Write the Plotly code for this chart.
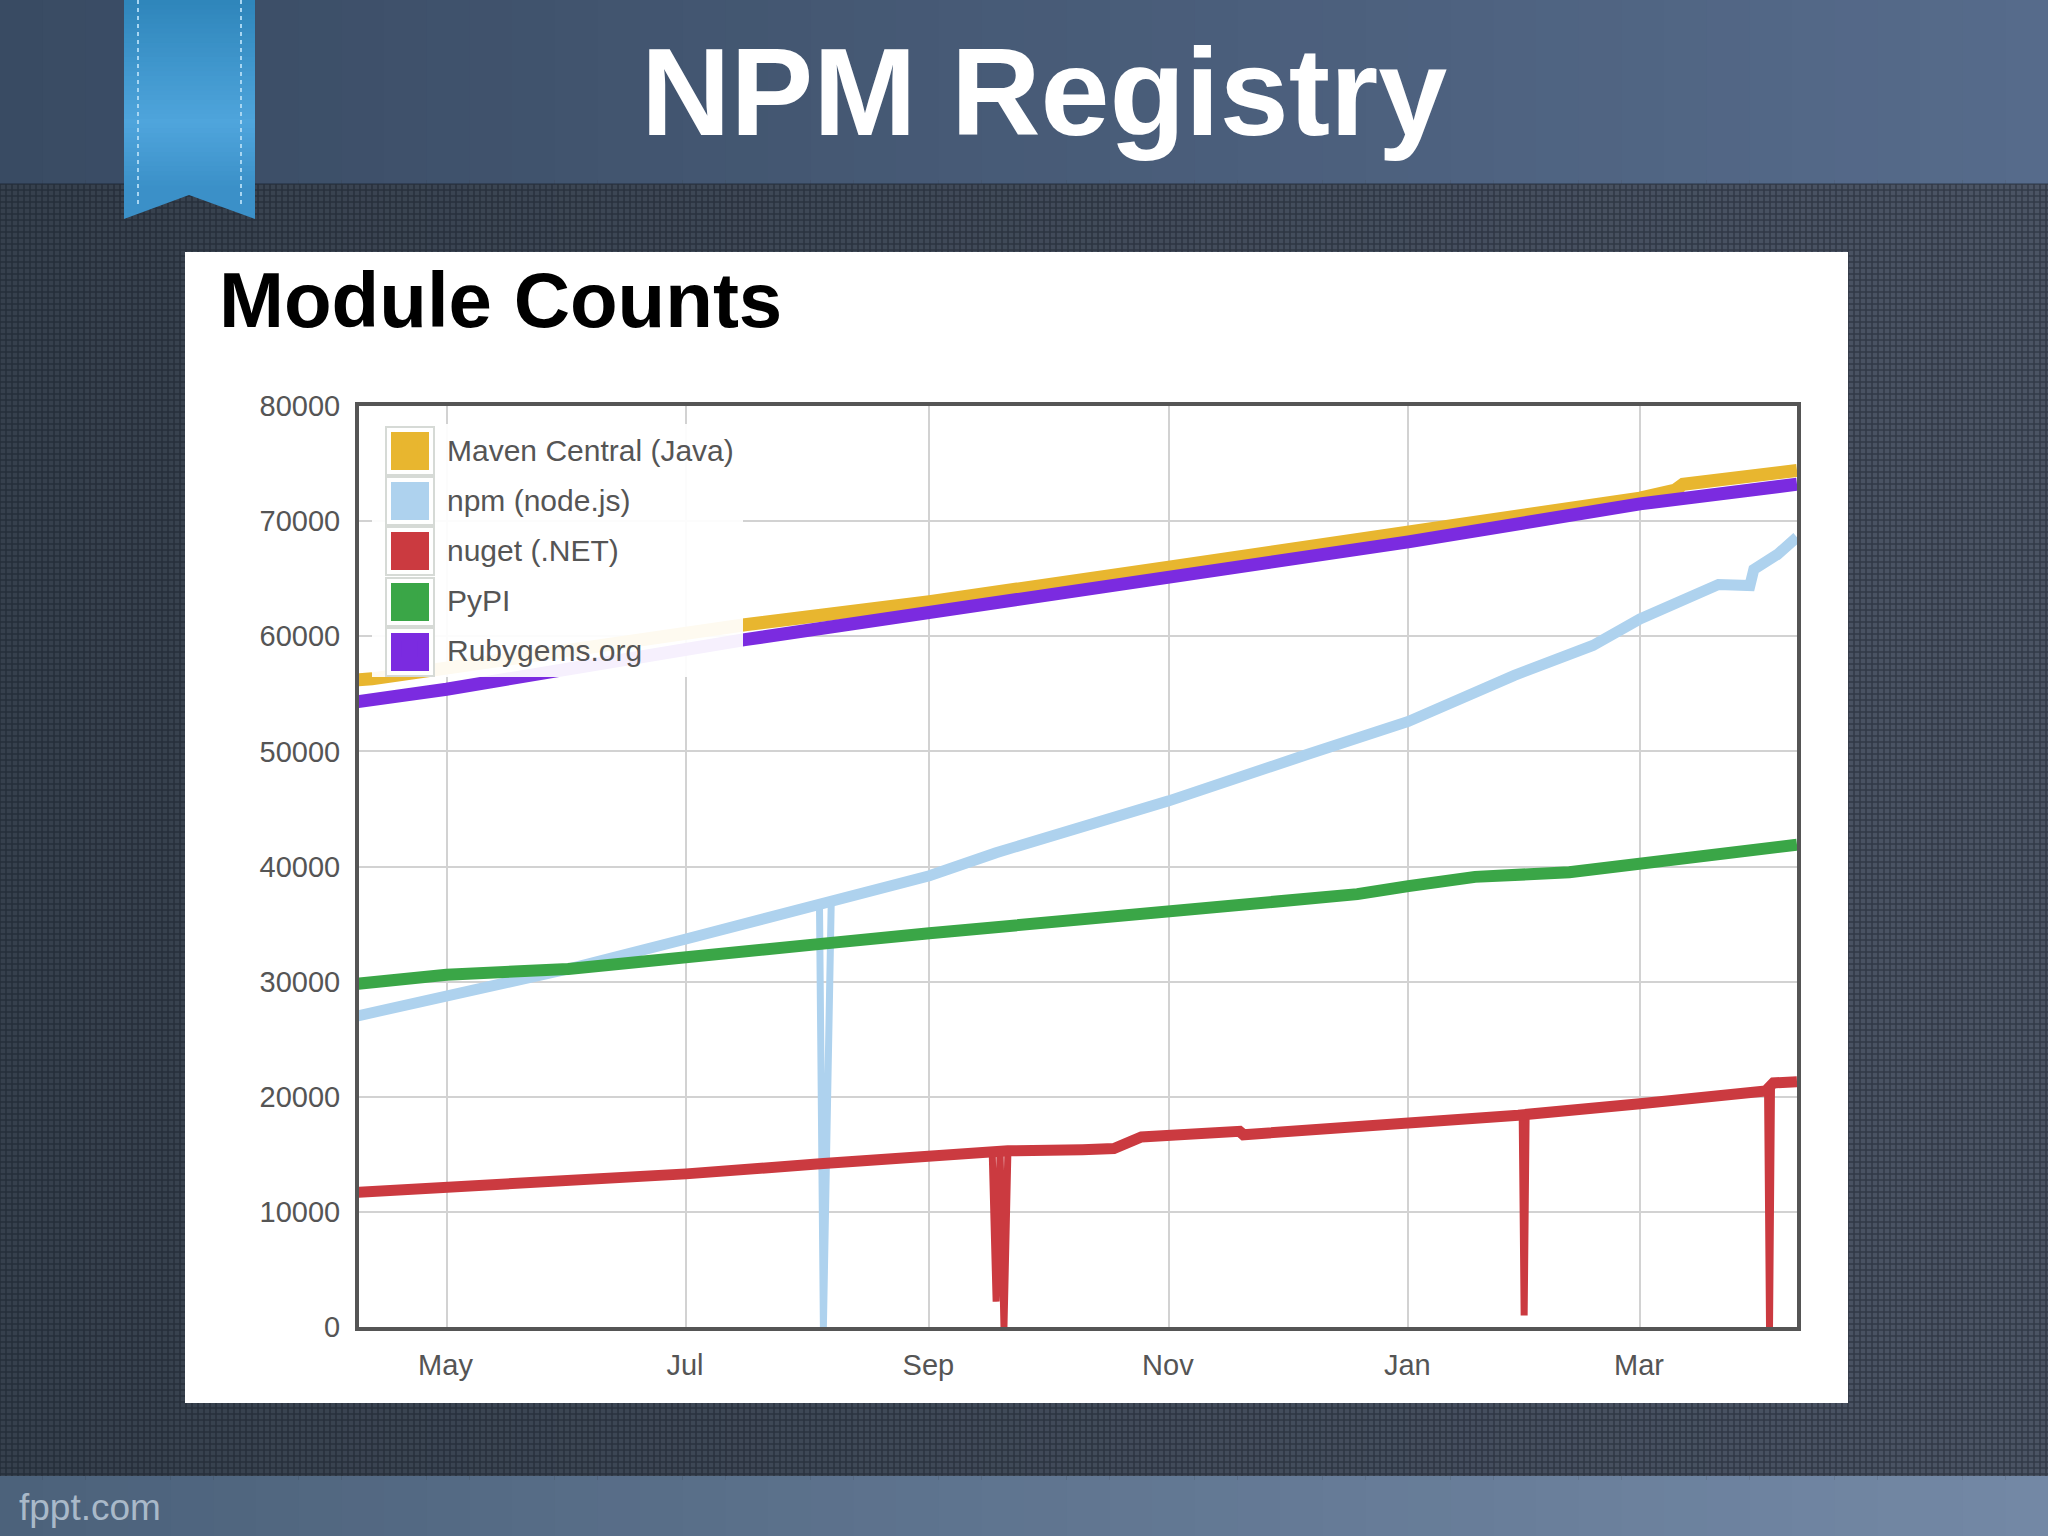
import plotly.graph_objects as go

W = 2048
H = 1536

# values
maven_dates = ['2013-04-08', '2013-04-12', '2013-07-16', '2013-09-01', '2013-11-01', '2014-01-01',
               '2014-03-01', '2014-03-10', '2014-03-12', '2014-04-10']
maven_vals = [56200, 56300, 61000, 63000, 66000, 69000, 72000, 72700, 73200, 74400]

npm_dates = ['2013-04-08', '2013-05-01', '2013-06-01', '2013-07-01', '2013-08-05',
             '2013-09-01', '2013-09-18', '2013-11-01', '2013-12-06', '2014-01-01',
             '2014-01-28', '2014-02-17', '2014-03-01', '2014-03-21', '2014-03-29', '2014-03-30',
             '2014-04-05', '2014-04-10']
npm_vals = [27000, 28700, 31100, 33700, 36900, 39200, 41200, 45700, 49700, 52600,
            56600, 59200, 61500, 64500, 64400, 65800, 67100, 68600]
npm_drop_dates = ['2013-08-04', '2013-08-05', '2013-08-07']
npm_drop_vals = [36800, 0, 37000]

nuget_dates = ['2013-04-08', '2013-05-01', '2013-07-01', '2013-08-05', '2013-09-01', '2013-09-17',
               '2013-09-21', '2013-10-10', '2013-10-18', '2013-10-25', '2013-11-19', '2013-11-20',
               '2014-01-01', '2014-01-29', '2014-03-01', '2014-04-02', '2014-04-04', '2014-04-10']
nuget_vals = [11700, 12100, 13300, 14200, 14800, 15200, 15300, 15400, 15500,
              16500, 17000, 16700, 17600, 18400, 19400, 20500, 21200, 21300]
nuget_drop_dates = ['2013-09-17', '2013-09-18', '2013-09-19', '2013-09-20', '2013-09-21', None,
                    '2014-01-30', '2014-01-30 12:00', '2014-01-31', None,
                    '2014-04-02 12:00', '2014-04-03', '2014-04-03 12:00']
nuget_drop_vals = [15200, 2200, 15200, 0, 15300, None, 18400, 1000, 18400, None, 20500, 0, 20800]

pypi_dates = ['2013-04-08', '2013-05-01', '2013-06-01', '2013-07-01', '2013-08-05', '2013-09-01',
              '2013-11-01', '2013-12-19', '2014-01-01', '2014-01-18', '2014-02-11', '2014-03-01',
              '2014-04-10']
pypi_vals = [29800, 30600, 31100, 32200, 33300, 34200, 36000, 37600, 38300, 39100, 39500, 40300, 41900]

ruby_dates = ['2013-04-08', '2013-05-01', '2013-07-16', '2013-09-01', '2013-11-01', '2014-01-01',
              '2014-03-01', '2014-04-10']
ruby_vals = [54300, 55400, 59700, 62000, 65200, 68200, 71500, 73200]

series = [
    ('Maven Central (Java)', maven_dates, maven_vals, '#e8b62f', 13),
    ('npm (node.js)', npm_dates, npm_vals, '#aed2ee', 11),
    ('nuget (.NET)', nuget_dates, nuget_vals, '#cb3a40', 11),
    ('PyPI', pypi_dates, pypi_vals, '#3aa647', 12),
    ('Rubygems.org', ruby_dates, ruby_vals, '#7b2be0', 13),
]

fig = go.Figure()

# dropouts go under the main lines, they are drawn thinner in the picture
fig.add_trace(go.Scatter(x=npm_drop_dates, y=npm_drop_vals, mode='lines', showlegend=False,
                         line=dict(color='#aed2ee', width=7)))
fig.add_trace(go.Scatter(x=nuget_drop_dates, y=nuget_drop_vals, mode='lines', showlegend=False,
                         line=dict(color='#cb3a40', width=7)))

for name, dates, vals, color, width in series:
    fig.add_trace(go.Scatter(
        x=dates,
        y=vals,
        mode='lines',
        name=name,
        line=dict(color=color, width=width),
        showlegend=False,
        legendgroup=name
    ))

# legend entries, the marker sits on top of the big square drawn below
for name, dates, vals, color, width in series:
    fig.add_trace(go.Scatter(
        x=[None],
        y=[None],
        mode='markers',
        name=name,
        marker=dict(symbol='square', color=color, size=16),
        legendgroup=name
    ))


def px(x0, y0, x1, y1):
    # page pixels to paper coordinates
    return dict(x0=x0 / W, x1=x1 / W, y0=1 - y0 / H, y1=1 - y1 / H)


def mix(c0, c1, t):
    a = [int(c0[i:i + 2], 16) for i in (1, 3, 5)]
    b = [int(c1[i:i + 2], 16) for i in (1, 3, 5)]
    return 'rgb(%d,%d,%d)' % tuple(round(a[i] + (b[i] - a[i]) * t) for i in range(3))


shapes = []


def rect(x0, y0, x1, y1, color, layer='below', line=None):
    shapes.append(dict(type='rect', xref='paper', yref='paper', layer=layer,
                       fillcolor=color, line=line or dict(width=0), **px(x0, y0, x1, y1)))


# top and bottom bands and the page behind the texture, gradients built from strips
strips = 48
for i in range(strips):
    x0 = W * i / strips
    x1 = W * (i + 1) / strips + 1
    t = i / (strips - 1)
    rect(x0, 180, x1, 1480, mix('#36404d', '#4b5464', t))
    rect(x0, 0, x1, 184, mix('#394b63', '#566b8b', t))
    rect(x0, 1476, x1, H, mix('#4c627b', '#7388a5', t))

# woven background texture, one path
tex = ''
for gx in range(0, W, 6):
    tex += 'M%.5f,%.5fL%.5f,%.5f' % (gx / W, 1 - 184 / H, gx / W, 1 - 1476 / H)
for gy in range(184, 1476, 6):
    tex += 'M0,%.5fL1,%.5f' % (1 - gy / H, 1 - gy / H)
shapes.append(dict(type='path', xref='paper', yref='paper', layer='below', path=tex,
                   line=dict(color='rgba(15,20,30,0.4)', width=1.5)))

# ribbon
for i in range(40):
    y0 = 190 * i / 40
    y1 = 190 * (i + 1) / 40 + 1
    t = i / 39
    if t < 0.65:
        col = mix('#2f86bb', '#4fa5dc', t / 0.65)
    else:
        col = mix('#4fa5dc', '#3b90c8', (t - 0.65) / 0.35)
    rect(124, y0, 255, y1, col)
shapes.append(dict(type='path', xref='paper', yref='paper', layer='below',
                   path='M%.5f,%.5fL%.5f,%.5fL%.5f,%.5fL%.5f,%.5fL%.5f,%.5fZ' % (
                       124 / W, 1 - 190 / H, 255 / W, 1 - 190 / H, 255 / W, 1 - 219 / H,
                       189 / W, 1 - 195 / H, 124 / W, 1 - 219 / H),
                   fillcolor='#3b90c8', line=dict(width=0)))
for sx in (138, 241):
    shapes.append(dict(type='line', xref='paper', yref='paper', layer='below',
                       line=dict(color='#a8d6f2', width=2, dash='4px,4px'), **px(sx, 0, sx, 208)))

# white panel
rect(185, 252, 1848, 1403, '#ffffff')

# legend box and big swatches, above the lines
rect(372, 424, 743, 677, 'rgba(255,255,255,0.93)', layer='above')
swatch_y = [451, 501, 551, 602, 652]
for (name, dates, vals, color, width), sy in zip(series, swatch_y):
    rect(386, sy - 24, 434, sy + 24, '#ffffff', layer='above', line=dict(color='#d6dad6', width=2))
    rect(391, sy - 19, 429, sy + 19, color, layer='above')

annotations = [
    dict(text='<b>NPM Registry</b>', x=1044 / W, y=1 - 92 / H, xref='paper', yref='paper', showarrow=False,
         xanchor='center', yanchor='middle', font=dict(family='Liberation Sans', size=124, color='#ffffff')),
    dict(text='<b>Module Counts</b>', x=217 / W, y=1 - 300 / H, xref='paper', yref='paper', showarrow=False,
         xanchor='left', yanchor='middle', font=dict(family='Liberation Sans', size=78, color='#000000')),
    dict(text='fppt.com', x=17 / W, y=1 - 1507 / H, xref='paper', yref='paper', showarrow=False,
         xanchor='left', yanchor='middle', font=dict(family='Liberation Sans', size=37, color='#a9b9c9')),
]

fig.update_layout(
    width=W,
    height=H,
    margin=dict(l=0, r=0, t=0, b=0),
    paper_bgcolor='#36404d',
    plot_bgcolor='rgba(0,0,0,0)',
    showlegend=True,
    shapes=shapes,
    annotations=annotations,
    font=dict(family='Liberation Sans', color='#555555', size=29),
    legend=dict(
        x=372 / W, y=1 - 423 / H, xanchor='left', yanchor='top',
        bgcolor='rgba(0,0,0,0)',
        font=dict(size=30, color='#555555'),
        traceorder='grouped',
        tracegroupgap=8,
        itemwidth=65
    ),
    xaxis=dict(
        domain=[359 / W, 1797 / W],
        type='date',
        range=['2013-04-08 17:00', '2014-04-10'],
        tick0='2013-05-01',
        dtick='M2',
        tickformat='%b',
        ticks='outside',
        ticklen=9,
        tickcolor='rgba(0,0,0,0)',
        ticklabelshift=-1,
        showgrid=True,
        gridcolor='#d2d2d2',
        gridwidth=1.5,
        showline=True,
        linecolor='#555555',
        linewidth=4,
        mirror=True,
        zeroline=False,
        automargin=False
    ),
    yaxis=dict(
        domain=[1 - 1327 / H, 1 - 406 / H],
        range=[0, 80000],
        dtick=10000,
        tickformat='d',
        ticks='outside',
        ticklen=9,
        tickcolor='rgba(0,0,0,0)',
        showgrid=True,
        gridcolor='#d2d2d2',
        gridwidth=1.5,
        showline=True,
        linecolor='#555555',
        linewidth=4,
        mirror=True,
        zeroline=False,
        automargin=False
    )
)

fig.write_html("out.html", config=dict(displayModeBar=False),
               post_script="document.body.style.margin='0';")
